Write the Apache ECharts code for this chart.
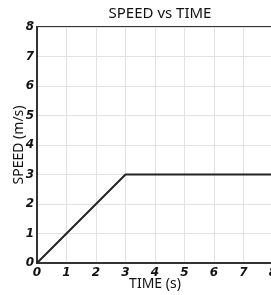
<!DOCTYPE html>
<html><head><meta charset="utf-8">
<script src="https://cdn.jsdelivr.net/npm/echarts@6/dist/echarts.min.js"></script>
<style>html,body{margin:0;padding:0;background:#fff}#c{width:271px;height:295px}</style>
</head><body><div id="c"></div>
<script>
const timeValues = [0, 3, 8];
const speedValues = [0, 3, 3];
const xTicks = [0, 1, 2, 3, 4, 5, 6, 7, 8];
const yTicks = [0, 1, 2, 3, 4, 5, 6, 7, 8];

const chart = echarts.init(document.getElementById('c'), null, {renderer: 'canvas'});
const tickFont = {fontFamily: 'DejaVu Sans', fontStyle: 'italic', fontWeight: 'bold', fontSize: 12, color: '#111'};
chart.setOption({
  animation: false,
  title: {text: 'SPEED vs TIME', left: 155, textAlign: 'center', top: 1,
    textStyle: {fontFamily: 'Noto Sans', fontWeight: 'normal', fontSize: 15, color: '#111'}},
  grid: {left: 37, right: -2, top: 27, bottom: 32, show: true, borderColor: '#333', borderWidth: 2,
    backgroundColor: 'transparent', outerBoundsMode: 'none', containLabel: false},
  xAxis: {type: 'value', min: xTicks[0], max: xTicks[xTicks.length-1], interval: 1,
    name: 'TIME (s)', nameLocation: 'middle', nameGap: 14, nameMoveOverlap: false,
    nameTextStyle: {fontFamily: 'Noto Sans', fontSize: 14, color: '#111'},
    axisLine: {lineStyle: {color: '#333', width: 2}}, axisTick: {show: false},
    axisLabel: Object.assign({margin: 4}, tickFont),
    splitLine: {show: true, lineStyle: {color: '#e2e2e2', width: 1}}},
  yAxis: {type: 'value', min: yTicks[0], max: yTicks[yTicks.length-1], interval: 1,
    name: 'SPEED (m/s)', nameLocation: 'middle', nameGap: 11, nameMoveOverlap: false,
    nameTextStyle: {fontFamily: 'Noto Sans', fontSize: 14, color: '#111'},
    axisLine: {show: true, lineStyle: {color: '#333', width: 2}}, axisTick: {show: false},
    axisLabel: Object.assign({margin: 3}, tickFont),
    splitLine: {show: true, lineStyle: {color: '#e2e2e2', width: 1}}},
  series: [{type: 'line', data: timeValues.map((t, i) => [t, speedValues[i]]),
    symbol: 'none', lineStyle: {color: '#222', width: 2}}]
});
</script></body></html>
